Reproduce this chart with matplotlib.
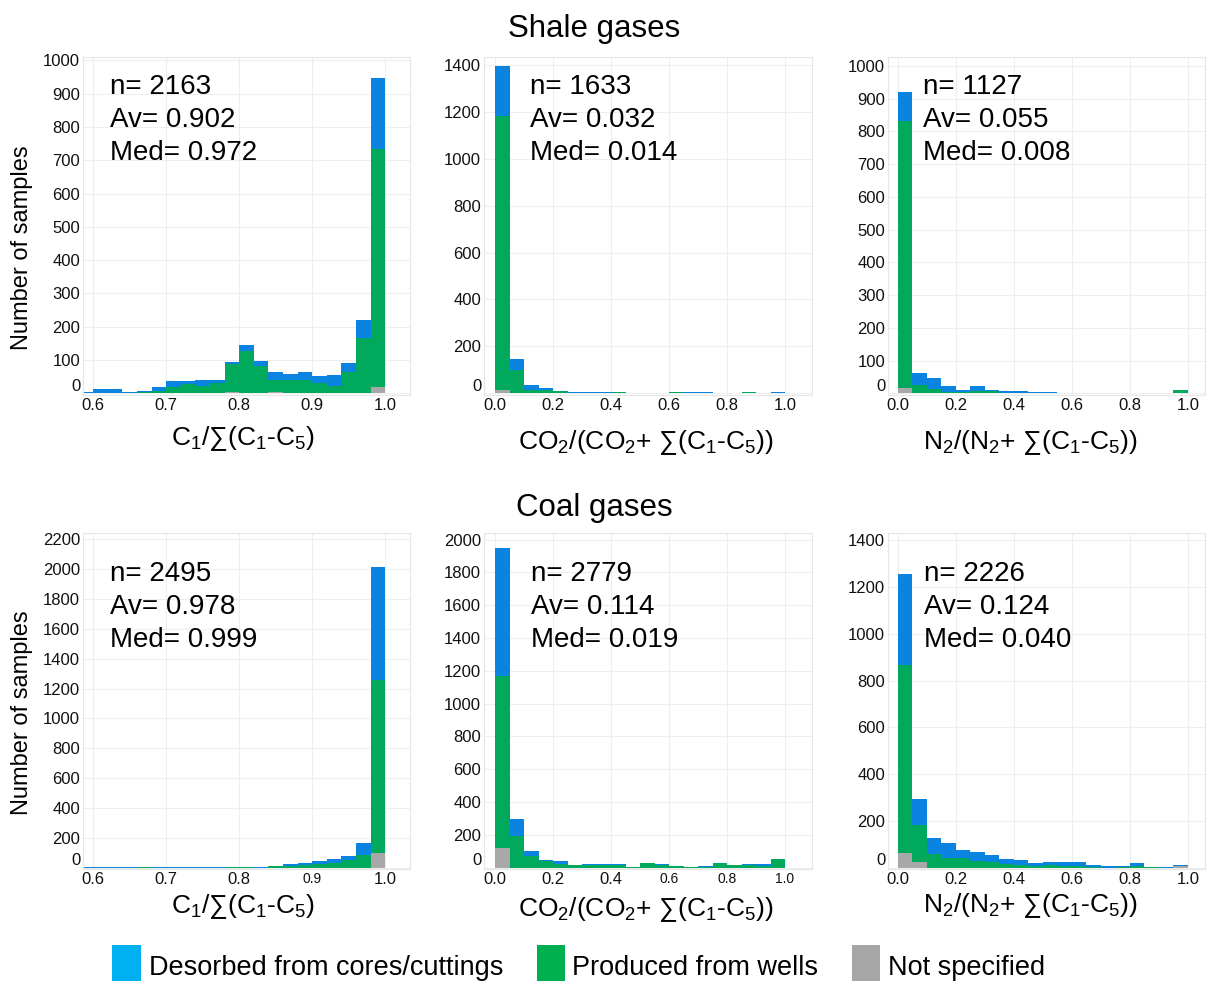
import numpy as np
import matplotlib
matplotlib.use("Agg")
import matplotlib.pyplot as plt
from matplotlib.patches import Rectangle
from matplotlib.transforms import ScaledTranslation

W, H = 1210, 981
BLUE, GREEN, GRAY = "#0a84e0", "#00a95c", "#a8a8a8"
LEG_BLUE, LEG_GREEN, LEG_GRAY = "#00b0f0", "#00b050", "#a6a6a6"
GRID = "#eeeeee"

plt.rcParams["font.family"] = ["Liberation Sans", "DejaVu Sans"]
plt.rcParams["mathtext.fontset"] = "custom"
plt.rcParams["mathtext.rm"] = "Liberation Sans"

# bin left edges
C1_BINS = [0.58, 0.60, 0.62, 0.64, 0.66, 0.68, 0.70, 0.72, 0.74, 0.76, 0.78,
           0.80, 0.82, 0.84, 0.86, 0.88, 0.90, 0.92, 0.94, 0.96, 0.98]
RATIO_BINS = [0.00, 0.05, 0.10, 0.15, 0.20, 0.25, 0.30, 0.35, 0.40, 0.45,
              0.50, 0.55, 0.60, 0.65, 0.70, 0.75, 0.80, 0.85, 0.90, 0.95]

# shale gases: counts per bin (desorbed / produced / not specified)
SHALE_C1_DES = [3, 11, 12, 4, 1, 10, 16, 10, 19, 10, 6, 18, 17, 25, 18, 25, 23, 33, 29, 56, 211]
SHALE_C1_PROD = [0, 1, 1, 1, 5, 8, 20, 28, 21, 30, 83, 127, 81, 37, 40, 40, 30, 23, 63, 165, 717]
SHALE_C1_NS = [0, 0, 0, 0, 0, 0, 0, 0, 0, 0, 4, 0, 0, 3, 0, 0, 0, 0, 0, 0, 18]

SHALE_CO2_DES = [212, 47, 22, 10, 3, 4, 3, 4, 0, 0, 0, 0, 0, 4, 4, 0, 0, 0, 0, 4]
SHALE_CO2_PROD = [1168, 100, 13, 13, 8, 0, 0, 0, 3, 0, 0, 0, 3, 0, 0, 0, 0, 3, 0, 0]
SHALE_CO2_NS = [15, 0, 0, 0, 0, 0, 0, 0, 0, 0, 0, 0, 0, 0, 0, 0, 0, 0, 0, 0]

SHALE_N2_DES = [88, 36, 34, 17, 5, 15, 1, 6, 6, 4, 3, 0, 0, 2, 2, 2, 2, 0, 1, 0]
SHALE_N2_PROD = [815, 26, 13, 4, 4, 6, 8, 0, 0, 0, 0, 0, 0, 0, 0, 0, 0, 0, 0, 11]
SHALE_N2_NS = [16, 0, 0, 0, 0, 0, 0, 0, 0, 0, 0, 0, 0, 0, 0, 0, 0, 0, 0, 0]

# coal gases
COAL_C1_DES = [5, 6, 6, 6, 0, 2, 5, 5, 5, 6, 0, 0, 2, 2, 11, 13, 25, 22, 27, 80, 750]
COAL_C1_PROD = [0, 0, 0, 0, 5, 2, 0, 0, 0, 0, 6, 6, 3, 11, 13, 18, 24, 36, 51, 85, 1162]
COAL_C1_NS = [0, 0, 0, 0, 0, 0, 0, 0, 0, 0, 0, 0, 0, 0, 0, 0, 0, 0, 0, 0, 98]

COAL_CO2_DES = [783, 101, 26, 6, 14, 0, 4, 6, 6, 2, 0, 6, 0, 0, 4, 0, 0, 6, 10, 0]
COAL_CO2_PROD = [1048, 194, 74, 38, 24, 17, 17, 15, 15, 5, 28, 15, 12, 5, 7, 31, 17, 15, 11, 54]
COAL_CO2_NS = [119, 0, 0, 0, 0, 0, 0, 0, 0, 0, 0, 0, 0, 0, 0, 0, 0, 0, 0, 0]

COAL_N2_DES = [391, 111, 66, 65, 36, 36, 30, 21, 22, 11, 14, 14, 14, 9, 8, 3, 12, 0, 3, 6]
COAL_N2_PROD = [803, 156, 60, 39, 39, 29, 26, 15, 11, 8, 11, 8, 8, 3, 0, 2, 6, 2, 0, 0]
COAL_N2_NS = [62, 25, 0, 0, 0, 0, 0, 0, 0, 0, 0, 0, 0, 0, 0, 0, 0, 0, 0, 5]

SHALE_N = [2163, 1633, 1127]
SHALE_AV = ["0.902", "0.032", "0.055"]
SHALE_MED = ["0.972", "0.014", "0.008"]
COAL_N = [2495, 2779, 2226]
COAL_AV = ["0.978", "0.114", "0.124"]
COAL_MED = ["0.999", "0.019", "0.040"]

C1_TICKS = [0.6, 0.7, 0.8, 0.9, 1.0]
RATIO_TICKS = [0.0, 0.2, 0.4, 0.6, 0.8, 1.0]

XLAB_C1 = r"C$_\mathregular{1}$/∑(C$_\mathregular{1}$-C$_\mathregular{5}$)"
XLAB_CO2 = r"CO$_\mathregular{2}$/(CO$_\mathregular{2}$+ ∑(C$_\mathregular{1}$-C$_\mathregular{5}$))"
XLAB_N2 = r"N$_\mathregular{2}$/(N$_\mathregular{2}$+ ∑(C$_\mathregular{1}$-C$_\mathregular{5}$))"


def fx(x):
    return x / W


def fy(y):
    return 1 - y / H


def add_axes(fig, x0, y0, x1, y1):
    return fig.add_axes([fx(x0), fy(y1), (x1 - x0) / W, (y1 - y0) / H])


def draw_hist(ax, bins, width, des, prod, ns, xlim, ylim, xticks, ystep, small_x=()):
    des, prod, ns = np.array(des), np.array(prod), np.array(ns)
    ax.bar(bins, ns, width, align="edge", color=GRAY, lw=0)
    ax.bar(bins, prod, width, bottom=ns, align="edge", color=GREEN, lw=0)
    ax.bar(bins, des, width, bottom=ns + prod, align="edge", color=BLUE, lw=0)
    ax.set_xlim(*xlim)
    ax.set_ylim(*ylim)
    ax.set_xticks(xticks, [f"{t:.1f}" for t in xticks])
    yt = list(range(0, int(ylim[1]) + 1, ystep))
    ax.set_yticks(yt, [str(v) for v in yt])
    ax.set_axisbelow(True)
    ax.grid(True, color=GRID, lw=0.8)
    ax.tick_params(length=0, pad=2, labelsize=12, labelcolor="#111111")
    for s in ax.spines.values():
        s.set_color("#e6e6e6")
        s.set_linewidth(0.8)
    # the zero label sits a little above its gridline
    zero = ax.get_yticklabels()[0]
    zero.set_transform(zero.get_transform() + ScaledTranslation(0, 8.5 / 100, ax.figure.dpi_scale_trans))
    for lbl, t in zip(ax.get_xticklabels(), xticks):
        if t in small_x:
            lbl.set_fontsize(10)


def stats(fig, x, ys, n, av, med):
    for y, s in zip(ys, [f"n= {n}", f"Av= {av}", f"Med= {med}"]):
        fig.text(fx(x), fy(y), s, fontsize=20, va="center", ha="left")


fig = plt.figure(figsize=(W / 100, H / 100), dpi=100)

cols = [(83, 410), (484, 812), (888, 1205)]
top, bot = (57, 395), (533, 869)

panels = [
    (cols[0], top, C1_BINS, 0.02, SHALE_C1_DES, SHALE_C1_PROD, SHALE_C1_NS,
     (0.586, 1.034), (-5, 1010), C1_TICKS, 100, ()),
    (cols[1], top, RATIO_BINS, 0.05, SHALE_CO2_DES, SHALE_CO2_PROD, SHALE_CO2_NS,
     (-0.038, 1.093), (-8, 1435), RATIO_TICKS, 200, ()),
    (cols[2], top, RATIO_BINS, 0.05, SHALE_N2_DES, SHALE_N2_PROD, SHALE_N2_NS,
     (-0.034, 1.059), (-5, 1027), RATIO_TICKS, 100, ()),
    (cols[0], bot, C1_BINS, 0.02, COAL_C1_DES, COAL_C1_PROD, COAL_C1_NS,
     (0.586, 1.034), (-7, 2240), C1_TICKS, 200, (0.9,)),
    (cols[1], bot, RATIO_BINS, 0.05, COAL_CO2_DES, COAL_CO2_PROD, COAL_CO2_NS,
     (-0.038, 1.093), (-8, 2040), RATIO_TICKS, 200, (0.6, 0.8, 1.0)),
    (cols[2], bot, RATIO_BINS, 0.05, COAL_N2_DES, COAL_N2_PROD, COAL_N2_NS,
     (-0.034, 1.059), (-6, 1432), RATIO_TICKS, 200, ()),
]
for (x0, x1), (y0, y1), bins, w, d, p, u, xl, yl, xt, ys, sm in panels:
    ax = add_axes(fig, x0, y0, x1, y1)
    draw_hist(ax, bins, w, d, p, u, xl, yl, xt, ys, sm)

# group titles
fig.text(fx(594), fy(37), "Shale gases", fontsize=22.5, ha="center", va="baseline")
fig.text(fx(594), fy(516), "Coal gases", fontsize=22.5, ha="center", va="baseline")

# summary statistics
for x, n, av, med in zip([110, 530, 923], SHALE_N, SHALE_AV, SHALE_MED):
    stats(fig, x, [87, 120, 153], n, av, med)
for x, n, av, med in zip([110, 531, 924], COAL_N, COAL_AV, COAL_MED):
    stats(fig, x, [574, 607, 640], n, av, med)

# axis titles
for (x, y), lab in zip([(243, 445), (646, 449), (1030, 449)], [XLAB_C1, XLAB_CO2, XLAB_N2]):
    fig.text(fx(x), fy(y), lab, fontsize=19, ha="center", va="baseline")
for (x, y), lab in zip([(243, 913), (646, 916), (1030, 912)], [XLAB_C1, XLAB_CO2, XLAB_N2]):
    fig.text(fx(x), fy(y), lab, fontsize=19, ha="center", va="baseline")
for y in (248, 713):
    fig.text(fx(22), fy(y), "Number of samples", fontsize=17, rotation=90,
             ha="center", va="center")

# legend
for (x0, x1), tx, col, lab in [((112, 141), 149, LEG_BLUE, "Desorbed from cores/cuttings"),
                                ((537, 565), 572, LEG_GREEN, "Produced from wells"),
                                ((852, 880), 888, LEG_GRAY, "Not specified")]:
    fig.add_artist(Rectangle((fx(x0), fy(981)), (x1 - x0) / W, 36 / H,
                             transform=fig.transFigure, color=col, lw=0))
    fig.text(fx(tx), fy(975), lab, fontsize=19.5, ha="left", va="baseline")

fig.savefig("out.png", dpi=100, facecolor="white")
